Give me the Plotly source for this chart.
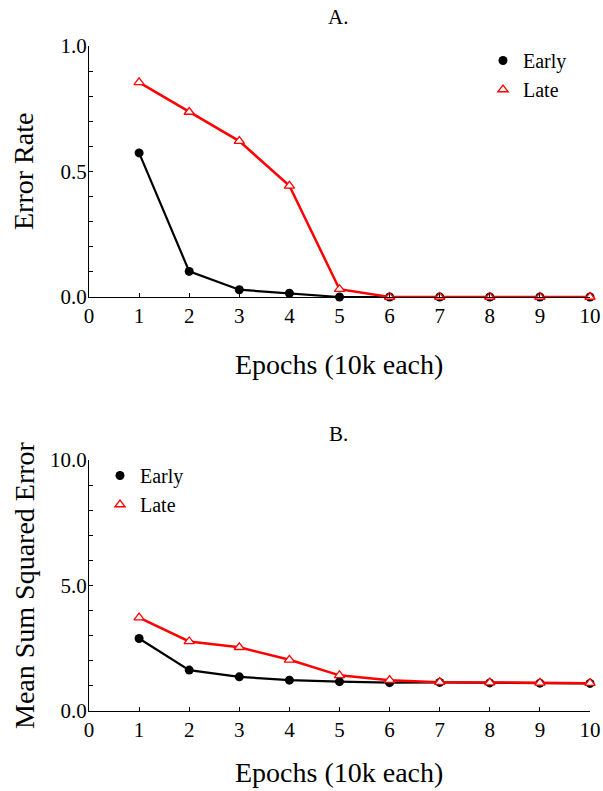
import plotly.graph_objects as go

epochs = [1, 2, 3, 4, 5, 6, 7, 8, 9, 10]
x_ticks = [0, 1, 2, 3, 4, 5, 6, 7, 8, 9, 10]

err_early = [0.574, 0.102, 0.029, 0.015, 0.0, 0.0, 0.0, 0.0, 0.0, 0.0]
err_late = [0.855, 0.737, 0.621, 0.443, 0.031, 0.0, 0.0, 0.0, 0.0, 0.0]

mse_early = [2.89, 1.63, 1.36, 1.23, 1.17, 1.13, 1.14, 1.12, 1.11, 1.10]
mse_late = [3.72, 2.77, 2.54, 2.04, 1.42, 1.23, 1.15, 1.13, 1.12, 1.11]

W, H = 603, 791
FONT = "Liberation Serif"

def px_x(p):
    return p / W

def px_y(p):
    return 1 - p / H

fig = go.Figure()

early_marker = dict(symbol="circle", size=9, color="black")
late_marker = dict(symbol="triangle-up", size=9, color="white",
                   line=dict(color="red", width=1.3))

for xa, ya, e, l, leg in [("x", "y", err_early, err_late, "legend"),
                          ("x2", "y2", mse_early, mse_late, "legend2")]:
    fig.add_trace(go.Scatter(x=epochs, y=e, xaxis=xa, yaxis=ya, mode="lines+markers",
                             line=dict(color="black", width=2.2), marker=early_marker,
                             showlegend=False, cliponaxis=False))
    fig.add_trace(go.Scatter(x=epochs, y=l, xaxis=xa, yaxis=ya, mode="lines+markers",
                             line=dict(color="red", width=2.5), marker=late_marker,
                             showlegend=False, cliponaxis=False))
    fig.add_trace(go.Scatter(x=[None], y=[None], xaxis=xa, yaxis=ya, mode="markers",
                             marker=early_marker, name="Early", legend=leg))
    fig.add_trace(go.Scatter(x=[None], y=[None], xaxis=xa, yaxis=ya, mode="markers",
                             marker=late_marker, name="Late", legend=leg))

xdom = [px_x(89), px_x(590)]
axis_common = dict(showline=True, linecolor="black", linewidth=1.3, showgrid=False,
                   zeroline=False, ticks="inside", ticklen=4, tickcolor="black",
                   tickwidth=1, automargin=False,
                   tickfont=dict(family=FONT, size=21, color="black"))

fig.update_layout(
    width=W, height=H,
    margin=dict(l=0, r=0, t=0, b=0),
    paper_bgcolor="white", plot_bgcolor="white",
    font=dict(family=FONT, color="black"),
    xaxis=dict(domain=xdom, range=[0, 10], tickmode="array", tickvals=x_ticks,
               anchor="y", ticklabelstandoff=0, **axis_common),
    yaxis=dict(domain=[px_y(297), px_y(46)], range=[0, 1], tickvals=[0, 0.5, 1.0],
               tickformat=".1f", anchor="x", ticklabelstandoff=-3,
               minor=dict(dtick=0.1, ticks="inside", ticklen=4, tickcolor="black"),
               **axis_common),
    xaxis2=dict(domain=xdom, range=[0, 10], tickmode="array", tickvals=x_ticks,
                anchor="y2", ticklabelstandoff=0, **axis_common),
    yaxis2=dict(domain=[px_y(711), px_y(460)], range=[0, 10], tickvals=[0, 5, 10],
                tickformat=".1f", anchor="x2", ticklabelstandoff=-3,
                minor=dict(dtick=1, ticks="inside", ticklen=4, tickcolor="black"),
                **axis_common),
    legend=dict(x=px_x(483), y=px_y(41), xanchor="left", yanchor="top",
                font=dict(family=FONT, size=20, color="black"),
                bgcolor="rgba(0,0,0,0)", itemwidth=30),
    legend2=dict(x=px_x(100), y=px_y(456), xanchor="left", yanchor="top",
                 font=dict(family=FONT, size=20, color="black"),
                 bgcolor="rgba(0,0,0,0)", itemwidth=30),
)

ann = dict(showarrow=False, xref="paper", yref="paper")
texts = [
    ("A.", 338, 17, 21, 0),
    ("B.", 338, 434, 21, 0),
    ("Epochs (10k each)", 339, 364, 28, 0),
    ("Epochs (10k each)", 339, 772, 28, 0),
    ("Error Rate", 24, 172, 28, -90),
    ("Mean Sum Squared Error", 24, 585, 28, -90),
]
for t, x, y, s, ang in texts:
    fig.add_annotation(text=t, x=px_x(x), y=px_y(y), xanchor="center", yanchor="middle",
                       textangle=ang, font=dict(family=FONT, color="black", size=s), **ann)

fig.write_html("out.html")
